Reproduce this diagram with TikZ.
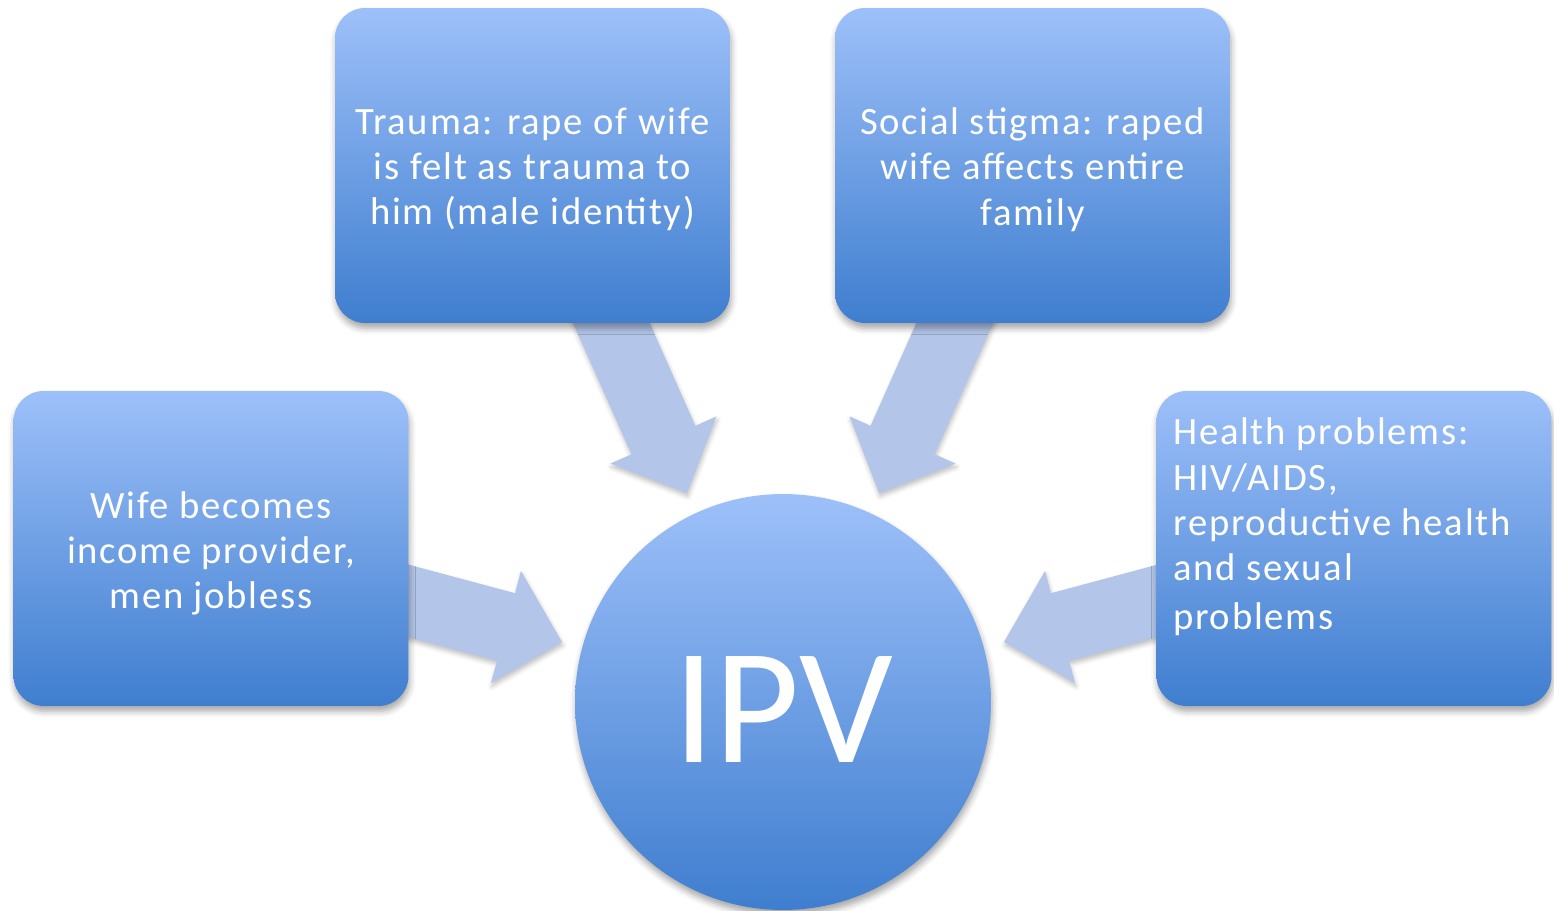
\documentclass[tikz,border=0pt]{standalone}
\usepackage{fontspec}
\setmainfont{Carlito}
\newfontfamily\boxfont{Carlito}[LetterSpace=4.5]
\usetikzlibrary{shadows.blur,backgrounds}
\definecolor{boxtop}{HTML}{9DC0F9}
\definecolor{boxbot}{HTML}{3F7ECF}
\definecolor{arrowc}{HTML}{B3C6E9}
\begin{document}
\begin{tikzpicture}[x=0.02cm,y=0.02cm,
  softshadow/.style={blur shadow={shadow xshift=0.6pt, shadow yshift=-3pt, shadow opacity=35, shadow blur radius=3.5pt}},
  box/.style={rounded corners=0.6cm, minimum width=7.9cm, minimum height=6.3cm,
    top color=boxtop, bottom color=boxbot, draw=none, softshadow},
  boxtext/.style={text=white, font=\boxfont\fontsize{22}{25.8}\selectfont, inner sep=0pt},
  hub/.style={circle, minimum size=8.32cm, inner sep=0pt, top color=boxtop, bottom color=boxbot,
    draw=none, softshadow, text=white, font=\fontsize{94}{94}\selectfont},
  blockarrow/.style={fill=arrowc, draw=none,
    blur shadow={shadow xshift=0.5pt, shadow yshift=-2pt, shadow opacity=25, shadow blur radius=2.5pt}}]
\useasboundingbox (0,0) rectangle (1554,911);

% boxes
\node[box] (trauma) at (532.5,745.5) {};
\node[boxtext, align=center] (traumatxt) at ([yshift=-4*0.02cm]trauma.center) {Trauma: rape of wife\\is felt as trauma to\\him (male identity)};
\node[box] (stigma) at (1032.5,745.5) {};
\node[boxtext, align=center] (stigmatxt) at ([yshift=-4*0.02cm]stigma.center) {Social stigma: raped\\wife affects entire\\family};
\node[box] (wife) at (211,362.5) {};
\node[boxtext, align=center] (wifetxt) at ([yshift=-5*0.02cm]wife.center) {Wife becomes\\income provider,\\men jobless};
\node[box] (health) at (1354,362.5) {};
\node[boxtext, align=left, anchor=west] (healthtxt) at (1173,384) {Health problems:\\HIV/AIDS,\\reproductive health\\and sexual\\[2pt]problems};

% hub
\node[hub] (ipv) at (783,209) {\raisebox{-4pt}[\height][0pt]{IPV}};

% arrow tips
\coordinate (t1) at (687,418);
\coordinate (t2) at (879,418);
\coordinate (t3) at (562,269);
\coordinate (t4) at (1004,269);

\begin{scope}[on background layer]
  \path[blockarrow, shift={(t1)}, rotate=-66]
    (0,0) -- (-58,58) -- (-58,35) -- (-240,35) -- (-240,-35) -- (-58,-35) -- (-58,-58) -- cycle;
  \path[blockarrow, shift={(t2)}, rotate=-114]
    (0,0) -- (-58,58) -- (-58,35) -- (-240,35) -- (-240,-35) -- (-58,-35) -- (-58,-58) -- cycle;
  \path[blockarrow, shift={(t3)}, rotate=-15]
    (0,0) -- (-58,58) -- (-58,35) -- (-200,35) -- (-200,-35) -- (-58,-35) -- (-58,-58) -- cycle;
  \path[blockarrow, shift={(t4)}, rotate=-165]
    (0,0) -- (-58,58) -- (-58,35) -- (-200,35) -- (-200,-35) -- (-58,-35) -- (-58,-58) -- cycle;
\end{scope}
\end{tikzpicture}
\end{document}
